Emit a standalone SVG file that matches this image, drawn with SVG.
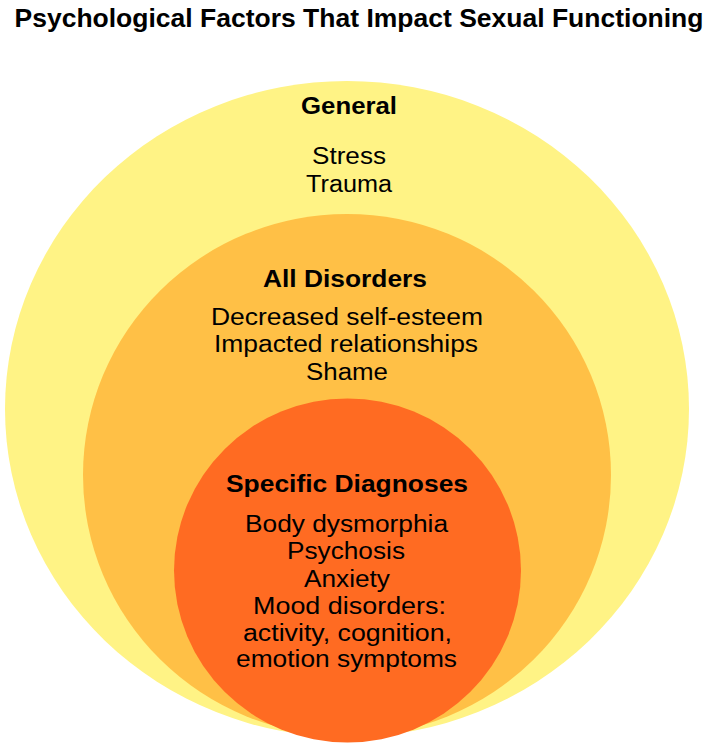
<svg xmlns="http://www.w3.org/2000/svg" width="709" height="749" viewBox="0 0 709 749">
<style>
text{font-family:"Liberation Sans",Arial,sans-serif;fill:#000;text-anchor:middle}
.h{font-weight:bold;font-size:23px}
.t{font-size:23px}
.title{font-weight:bold;font-size:26px}
</style>
<rect width="709" height="749" fill="#fff"/>
<text class="title" x="359" y="27" textLength="689" lengthAdjust="spacingAndGlyphs">Psychological Factors That Impact Sexual Functioning</text>
<g id="general">
<ellipse cx="347" cy="409" rx="342" ry="328" fill="#FFF385"/>
<text class="h" x="349" y="114" textLength="96" lengthAdjust="spacingAndGlyphs">General</text>
<text class="t" x="349" y="164" textLength="74" lengthAdjust="spacingAndGlyphs">Stress</text>
<text class="t" x="349" y="192" textLength="86" lengthAdjust="spacingAndGlyphs">Trauma</text>
</g>
<g id="all-disorders">
<ellipse cx="347" cy="475" rx="264" ry="261" fill="#FFC046"/>
<text class="h" x="345" y="287" textLength="164" lengthAdjust="spacingAndGlyphs">All Disorders</text>
<text class="t" x="347" y="325" textLength="272" lengthAdjust="spacingAndGlyphs">Decreased self-esteem</text>
<text class="t" x="346" y="352" textLength="264" lengthAdjust="spacingAndGlyphs">Impacted relationships</text>
<text class="t" x="347" y="380" textLength="82" lengthAdjust="spacingAndGlyphs">Shame</text>
</g>
<g id="specific-diagnoses">
<ellipse cx="347.5" cy="570.5" rx="173.5" ry="172" fill="#FF6B22"/>
<text class="h" x="347" y="492" textLength="242" lengthAdjust="spacingAndGlyphs">Specific Diagnoses</text>
<text class="t" x="346.5" y="532" textLength="203" lengthAdjust="spacingAndGlyphs">Body dysmorphia</text>
<text class="t" x="346" y="559" textLength="118" lengthAdjust="spacingAndGlyphs">Psychosis</text>
<text class="t" x="347" y="587" textLength="86" lengthAdjust="spacingAndGlyphs">Anxiety</text>
<text class="t" x="349.5" y="614" textLength="193" lengthAdjust="spacingAndGlyphs">Mood disorders:</text>
<text class="t" x="347.5" y="641" textLength="209" lengthAdjust="spacingAndGlyphs">activity, cognition,</text>
<text class="t" x="346.5" y="667" textLength="221" lengthAdjust="spacingAndGlyphs">emotion symptoms</text>
</g>
<g id="connectors"/>
</svg>
